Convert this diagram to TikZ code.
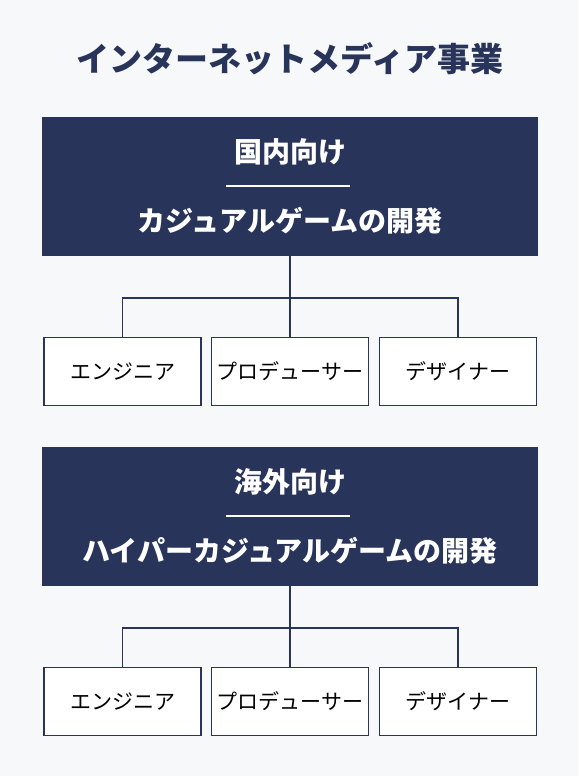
\documentclass[tikz,border=0pt]{standalone}
\usepackage{fontspec}
\setmainfont{Noto Sans CJK JP}
\definecolor{navy}{HTML}{283459}
\definecolor{bg}{HTML}{F7F8FA}
\begin{document}
\begin{tikzpicture}[x=1pt,y=-1pt,
  darkbox/.style={fill=navy,draw=none,minimum width=496pt,minimum height=139pt,inner sep=0pt},
  rolebox/.style={fill=white,draw=navy,line width=1.8pt,minimum width=157pt,minimum height=68pt,inner sep=0pt,font=\fontsize{21}{21}\selectfont,text=black},
  conn/.style={draw=navy,line width=1.4pt},
  sep/.style={draw=white,line width=1.4pt},
  hdr/.style={text=white,font=\bfseries\fontsize{28}{28}\selectfont,inner sep=0pt}]
\fill[bg] (0,0) rectangle (578,776);
\useasboundingbox (0,0) rectangle (578,776);
\node[text=navy,font=\bfseries\fontsize{33}{33}\selectfont,inner sep=0pt] (title) at (290,59) {インターネットメディア事業};
\foreach \off/\sa/\sb/\id in {0/国内向け/カジュアルゲームの開発/a,330/海外向け/ハイパーカジュアルゲームの開発/b}{
  \node[darkbox] (dark\id) at (290,186+\off) {};
  \node[hdr] (h1\id) at (290,152+\off) {\sa};
  \node[hdr] (h2\id) at (290,221+\off) {\sb};
  \coordinate (sl\id) at (226,186+\off);
  \coordinate (sr\id) at (350,186+\off);
  \draw[sep] (sl\id) -- (sr\id);
  \node[rolebox] (r1\id) at (122.5,371.5+\off) {エンジニア};
  \node[rolebox] (r2\id) at (290,371.5+\off) {プロデューサー};
  \node[rolebox] (r3\id) at (458,371.5+\off) {デザイナー};
  \coordinate (j\id) at (290,298+\off);
  \draw[conn] (dark\id.south) -- (r2\id.north);
  \draw[conn] (r1\id.north) |- (j\id) -| (r3\id.north);
}
\end{tikzpicture}
\end{document}
